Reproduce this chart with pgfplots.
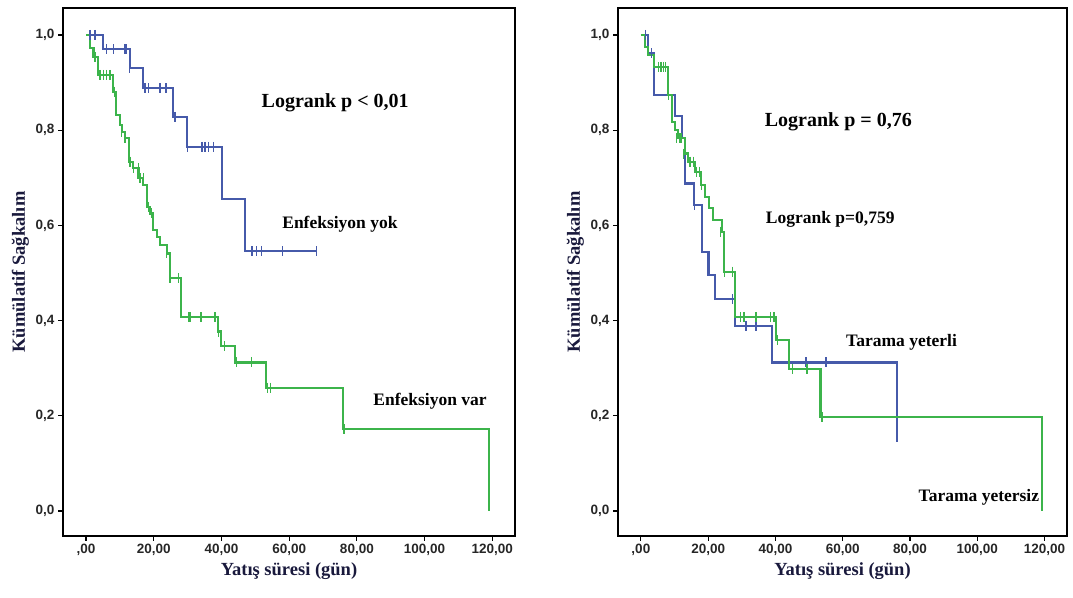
\documentclass[border=0pt]{standalone}
\usepackage{pgfplots}
\pgfplotsset{compat=1.18}
\usepackage{fontspec}
\setmainfont{Liberation Serif}
\newfontfamily\tickfont{Liberation Sans}
\definecolor{kmblue}{RGB}{70,90,170}
\definecolor{kmgreen}{RGB}{60,180,75}
\definecolor{labnavy}{RGB}{25,25,60}

\pgfplotsset{
  kmaxis/.style={
    scale only axis, height=528pt,
    xmin=-6.8, xmax=126.7, ymin=-0.0525, ymax=1.0567,
    axis line style={line width=1.8pt},
    tick style={black, line width=1.2pt},
    tick align=outside, major tick length=5pt,
    xtick pos=bottom, ytick pos=left,
    xtick={0,20,40,60,80,100,120},
    xticklabels={{,00},{20,00},{40,00},{60,00},{80,00},{100,00},{120,00}},
    ytick={0,0.2,0.4,0.6,0.8,1},
    yticklabels={{0,0},{0,2},{0,4},{0,6},{0,8},{1,0}},
    ticklabel style={font=\tickfont\bfseries\fontsize{13.5}{15}\selectfont, text=black!85},
    xlabel={Yatış süresi (gün)},
    ylabel={Kümülatif Sağkalım},
    label style={font=\bfseries\fontsize{18.5}{21}\selectfont, text=labnavy},
    every axis plot/.append style={line width=2.1pt},
  },
  cens/.style={only marks, mark=|, mark size=5pt, mark options={line width=1.4pt}},
}

\begin{document}
\begin{tikzpicture}
\useasboundingbox (0,0) rectangle (1073pt,597pt);

% sol panel: enfeksiyon
\begin{axis}[kmaxis, at={(63pt,61pt)}, anchor=south west, width=452pt]
\addplot[kmblue, const plot] coordinates {
  (0,1.0)(4.9,0.970)(13.0,0.931)(16.7,0.888)(25.8,0.828)(29.9,0.765)
  (40.1,0.655)(47.0,0.546)(68.1,0.546)
};
\addplot[kmblue, cens] coordinates {
  (1.2,1.0)(2.7,1.0)
  (6.1,0.970)(8.1,0.970)(11.5,0.970)(12.0,0.970)
  (12.8,0.931)
  (17.4,0.888)(18.4,0.888)(21.9,0.888)(23.6,0.888)
  (26.3,0.828)
  (29.9,0.765)(34.2,0.765)(35.1,0.765)(36.1,0.765)(37.6,0.765)
  (49.0,0.546)(50.4,0.546)(51.9,0.546)(58.0,0.546)(68.1,0.546)
};
\addplot[kmgreen, const plot] coordinates {
  (0,1.0)(1.2,0.972)(2.2,0.954)(3.6,0.916)(8.1,0.881)(8.9,0.832)
  (10.0,0.811)(10.5,0.797)(11.5,0.783)(12.8,0.734)(14.0,0.720)
  (15.5,0.699)(16.9,0.685)(17.9,0.639)(18.9,0.625)(19.9,0.590)
  (20.9,0.576)(21.9,0.559)(23.8,0.541)(24.8,0.489)(28.0,0.407)
  (38.9,0.377)(39.8,0.347)(44.0,0.312)(53.2,0.259)(75.8,0.172)
  (119.0,0.0)
};
\addplot[kmgreen, cens] coordinates {
  (2.7,0.954)
  (4.1,0.916)(5.1,0.916)(6.1,0.916)(7.1,0.916)
  (8.4,0.881)(10.5,0.797)(11.5,0.783)(13.0,0.734)
  (14.0,0.720)(15.5,0.720)(16.0,0.699)(16.9,0.699)
  (18.4,0.639)(19.4,0.625)(23.8,0.541)
  (24.8,0.489)(27.3,0.489)
  (30.2,0.407)(30.7,0.407)(34.0,0.407)(38.1,0.407)
  (39.1,0.377)(40.9,0.347)(44.5,0.312)(48.9,0.312)
  (53.6,0.259)(54.4,0.259)(76.2,0.172)
};
\node[font=\bfseries\fontsize{20}{24}\selectfont] at (axis cs:73.6,0.857) {Logrank p < 0,01};
\node[font=\bfseries\fontsize{17.5}{21}\selectfont] at (axis cs:75.0,0.603) {Enfeksiyon yok};
\node[font=\bfseries\fontsize{17.5}{21}\selectfont] at (axis cs:101.6,0.231) {Enfeksiyon var};
\end{axis}

% sag panel: tarama
\begin{axis}[kmaxis, at={(618pt,61pt)}, anchor=south west, width=449pt]
\addplot[kmblue, const plot] coordinates {
  (0,1.0)(2.1,0.962)(4.0,0.874)(10.1,0.830)(12.1,0.783)(13.1,0.688)
  (15.9,0.643)(18.2,0.545)(20.1,0.496)(22.1,0.445)(28.1,0.389)
  (39.1,0.312)(76.2,0.155)
};
\addplot[kmblue, cens] coordinates {
  (1.3,1.0)(3.2,0.962)(15.9,0.643)(27.3,0.445)
  (31.2,0.389)(34.2,0.389)(49.1,0.312)(55.0,0.312)(76.2,0.155)
};
\addplot[kmgreen, const plot] coordinates {
  (0,1.0)(1.3,0.975)(2.1,0.958)(4.0,0.933)(8.0,0.874)(9.2,0.818)
  (10.1,0.800)(11.1,0.783)(13.1,0.751)(13.9,0.734)(16.0,0.713)
  (18.0,0.685)(19.0,0.660)(20.2,0.636)(21.5,0.611)(24.1,0.587)
  (24.8,0.503)(28.0,0.408)(40.1,0.359)(44.0,0.298)(53.4,0.198)
  (119.3,0.0)
};
\addplot[kmgreen, cens] coordinates {
  (5.2,0.933)(6.0,0.933)(6.7,0.933)(7.4,0.933)(8.2,0.874)
  (10.6,0.783)(11.6,0.783)(12.1,0.783)(12.6,0.751)
  (14.6,0.734)(15.6,0.734)(16.5,0.713)(17.5,0.713)(18.0,0.685)
  (23.7,0.587)(24.8,0.503)(27.3,0.503)
  (29.7,0.408)(30.7,0.408)(34.2,0.408)(38.6,0.408)(39.6,0.408)
  (40.6,0.359)(45.0,0.298)(49.4,0.298)(53.9,0.198)
};
\node[font=\bfseries\fontsize{20}{24}\selectfont] at (axis cs:58.7,0.817) {Logrank p = 0,76};
\node[font=\bfseries\fontsize{17.5}{21}\selectfont] at (axis cs:56.3,0.613) {Logrank p=0,759};
\node[font=\bfseries\fontsize{17.5}{21}\selectfont] at (axis cs:77.5,0.355) {Tarama yeterli};
\node[font=\bfseries\fontsize{17.5}{21}\selectfont] at (axis cs:100.5,0.029) {Tarama yetersiz};
\end{axis}
\end{tikzpicture}
\end{document}
